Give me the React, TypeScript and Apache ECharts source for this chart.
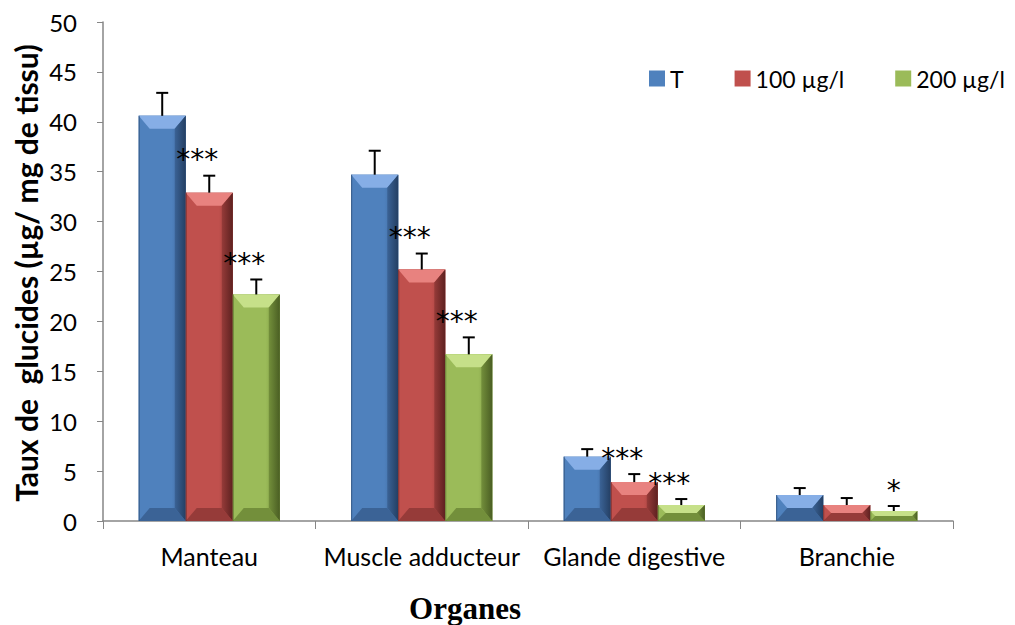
import React, { useEffect, useRef } from "react";
import * as echarts from "echarts";

const categories = ["Manteau", "Muscle adducteur", "Glande digestive", "Branchie"];
const seriesNames = ["T", "100 µg/l", "200 µg/l"];
const valuesT = [40.6, 34.7, 6.45, 2.6];
const values100 = [32.9, 25.2, 3.9, 1.6];
const values200 = [22.7, 16.7, 1.6, 1.0];
const errT = [2.3, 2.4, 0.75, 0.7];
const err100 = [1.7, 1.6, 0.8, 0.7];
const err200 = [1.5, 1.7, 0.6, 0.5];
const starsT = ["", "", "", ""];
const stars100 = ["***", "***", "***", ""];
const stars200 = ["***", "***", "***", "*"];

const palette = [
  { base: "#4F81BD", light: "#86AEE6", dark: "#243F63", mid: "#3B6396" },
  { base: "#C0504D", light: "#E8827F", dark: "#5E2120", mid: "#963B39" },
  { base: "#9BBB59", light: "#C6E089", dark: "#4A5E23", mid: "#738F3B" },
];

const allValues = [valuesT, values100, values200];
const allErr = [errT, err100, err200];
const allStars = [starsT, stars100, stars200];

const GAP = 0.336;

export default function App() {
  const ref = useRef<HTMLDivElement>(null);
  useEffect(() => {
    if (!ref.current) return;
    const chart = echarts.init(ref.current, undefined, { renderer: "svg" });
    const font = "Lato, sans-serif";

    const barSeries = seriesNames.map((name, s) => ({
      name,
      type: "bar",
      data: allValues[s],
      barGap: "0%",
      barCategoryGap: GAP * 100 + "%",
      itemStyle: { color: palette[s].base },
      z: 2,
    }));

    const overlaySeries = seriesNames.map((name, s) => ({
      type: "custom",
      name: name + "_overlay",
      z: 5,
      silent: true,
      data: allValues[s].map((v, i) => [i, v, v + allErr[s][i]]),
      renderItem: (params: any, api: any) => {
        const ci = api.value(0);
        const v = api.value(1);
        const e = api.value(2);
        const star = allStars[s][params.dataIndex];
        const center = api.coord([ci, 0]);
        const band = api.size([1, 0])[0];
        const bw = (band * (1 - GAP)) / 3;
        const cx = center[0] + (s - 1) * bw;
        const L = cx - bw / 2;
        const R = cx + bw / 2;
        const B = center[1];
        const T = api.coord([ci, v])[1];
        const ET = api.coord([ci, e])[1];
        const b = Math.min(13, (B - T) / 2, bw / 2);
        const bs = Math.min(11, (B - T) / 2, bw / 2);
        const c = palette[s];
        const children: any[] = [
          {
            type: "rect",
            shape: { x: L, y: T, width: bw, height: B - T },
            style: {
              fill: new echarts.graphic.LinearGradient(0, 0, 1, 0, [
                { offset: 0, color: c.base },
                { offset: 0.7, color: c.base },
                { offset: 1, color: c.mid },
              ]),
            },
          },
          {
            type: "polygon",
            shape: { points: [[L, T], [R, T], [R - bs, T + b], [L + bs, T + b]] },
            style: { fill: c.light },
          },
          {
            type: "polygon",
            shape: { points: [[R, T], [R, B], [R - bs, B - b], [R - bs, T + b]] },
            style: {
              fill: new echarts.graphic.LinearGradient(0, 0, 1, 0, [
                { offset: 0, color: c.mid },
                { offset: 1, color: c.dark },
              ]),
            },
          },
          {
            type: "polygon",
            shape: { points: [[L, B], [R, B], [R - bs, B - b], [L + bs, B - b]] },
            style: { fill: c.mid },
          },
          {
            type: "line",
            shape: { x1: L + 0.5, y1: T, x2: L + 0.5, y2: B },
            style: { stroke: c.dark, lineWidth: 1, opacity: 0.6 },
          },
          {
            type: "line",
            shape: { x1: cx, y1: T, x2: cx, y2: ET },
            style: { stroke: "#000", lineWidth: 2 },
          },
          {
            type: "line",
            shape: { x1: cx - 6, y1: ET, x2: cx + 6, y2: ET },
            style: { stroke: "#000", lineWidth: 2 },
          },
        ];
        if (star) {
          const multi = star.length > 1;
          children.push({
            type: "text",
            style: {
              text: star,
              x: cx + (multi ? -12 : 0),
              y: ET - 2,
              align: "center",
              verticalAlign: "bottom",
              fontSize: 28,
              fontFamily: "DejaVu Sans",
              fill: "#000",
            },
          });
        }
        return { type: "group", children };
      },
    }));

    chart.setOption({
      animation: false,
      backgroundColor: "#fff",
      grid: { left: 103, right: 62, top: 22, bottom: 104, containLabel: false },
      legend: {
        data: seriesNames,
        orient: "horizontal",
        left: 644,
        top: 62,
        width: 400,
        itemWidth: 16,
        itemHeight: 16,
        itemGap: 51,
        icon: "rect",
        textStyle: { fontFamily: font, fontSize: 23, color: "#000" },
      },
      xAxis: {
        type: "category",
        data: categories,
        axisLine: { lineStyle: { color: "#868686", width: 1.5 } },
        axisTick: { show: true, length: 8, lineStyle: { color: "#868686" } },
        axisLabel: { fontFamily: font, fontSize: 25, color: "#000", margin: 22, interval: 0 },
      },
      yAxis: {
        type: "value",
        min: 0,
        max: 50,
        interval: 5,
        axisLine: { show: true, lineStyle: { color: "#868686", width: 1.5 } },
        axisTick: { show: true, length: 6, lineStyle: { color: "#868686" } },
        splitLine: { show: false },
        axisLabel: { fontFamily: font, fontSize: 24, color: "#000", margin: 26 },
      },
      graphic: [
        {
          type: "text",
          x: 26,
          y: 273,
          rotation: Math.PI / 2,
          style: {
            text: "Taux de  glucides (µg/ mg de tissu)",
            fontFamily: font,
            fontWeight: "bold",
            fontSize: 30,
            fill: "#000",
            align: "center",
            verticalAlign: "middle",
          },
        },
        {
          type: "text",
          x: 465,
          y: 608,
          style: {
            text: "Organes",
            fontFamily: "'Liberation Serif', serif",
            fontWeight: "bold",
            fontSize: 31,
            fill: "#000",
            align: "center",
            verticalAlign: "middle",
          },
        },
      ],
      series: [...barSeries, ...overlaySeries],
    });
    return () => chart.dispose();
  }, []);
  return <div ref={ref} style={{ width: 1015, height: 625, position: "absolute", left: 0, top: 0 }} />;
}
